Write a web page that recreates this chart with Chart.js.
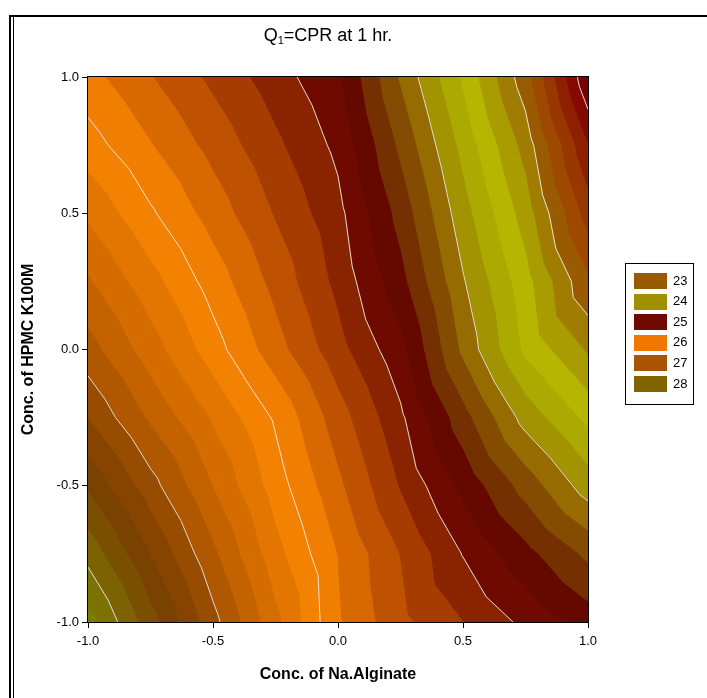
<!DOCTYPE html>
<html>
<head>
<meta charset="utf-8">
<script src="https://cdn.jsdelivr.net/npm/chart.js@4.4.1/dist/chart.umd.min.js"></script>
<style>
html,body{margin:0;padding:0;background:#fff;}
#wrap{position:relative;width:707px;height:698px;}
</style>
</head>
<body>
<div id="wrap"><canvas id="c" width="707" height="698"></canvas></div>
<script>
// ---- data ----
const xValues = [-1, -0.75, -0.5, -0.25, 0, 0.25, 0.5, 0.75, 1];
const yValues = [-1, -0.75, -0.5, -0.25, 0, 0.25, 0.5, 0.75, 1];
// CPR value at each grid node, one row per y value (left to right in x)
const rowYm100 = [28.29, 27.68, 27.07, 26.45, 25.82, 25.45, 25.20, 24.95, 24.70];
const rowYm075 = [27.93, 27.39, 26.84, 26.27, 25.79, 25.39, 24.99, 24.66, 24.35];
const rowYm050 = [27.56, 27.08, 26.59, 26.10, 25.64, 25.18, 24.74, 24.31, 23.90];
const rowYm025 = [27.19, 26.76, 26.37, 25.97, 25.49, 25.04, 24.47, 23.92, 23.54];
const rowY000  = [26.88, 26.49, 26.09, 25.68, 25.27, 24.86, 24.15, 23.55, 23.17];
const rowY025  = [26.62, 26.27, 25.91, 25.53, 25.14, 24.66, 24.02, 23.47, 22.83];
const rowY050  = [26.36, 26.03, 25.71, 25.38, 25.06, 24.52, 23.88, 23.30, 22.50];
const rowY075  = [26.09, 25.81, 25.53, 25.24, 24.95, 24.35, 23.73, 23.12, 22.20];
const rowY100  = [25.87, 25.61, 25.35, 25.09, 24.83, 24.17, 23.56, 22.88, 21.82];
const zRows = [rowYm100, rowYm075, rowYm050, rowYm025, rowY000, rowY025, rowY050, rowY075, rowY100];

const bandLevels = [21.8,22.0,22.2,22.4,22.6,22.8,23.0,23.2,23.4,23.6,23.8,24.0,24.2,24.4,24.6,24.8,25.0,
                    25.2,25.4,25.6,25.8,26.0,26.2,26.4,26.6,26.8,27.0,27.2,27.4,27.6,27.8,28.0,28.2,28.4];
const bandColors = ['#7a0000','#860800','#8e2000','#983800','#9e4800','#9a5a00','#a07c00','#a89c00',
                    '#b6b600','#acaa00','#a29400','#966c00','#844c00','#743000','#640800','#6e0a00',
                    '#8a2400','#a63c00','#be5200','#d86800','#f07e00','#f28200','#e27600','#d46c00',
                    '#c46200','#b05800','#984c00','#864400','#7a4200','#7a5000','#7c6200','#7c7200','#7c7c00'];
const lineLevels = [22, 23, 24, 25, 26, 27, 28];

const legendLabels = ['23', '24', '25', '26', '27', '28'];
const legendColors = ['#9a5a00', '#a09000', '#6e0a00', '#f07800', '#a85400', '#806400'];

const xTicks = [-1, -0.5, 0, 0.5, 1];
const yTicks = [-1, -0.5, 0, 0.5, 1];

const FONT = "'Liberation Sans', Arial, Helvetica, sans-serif";

// ---- contour drawing through the chart scales ----
function clipPoly(poly, level, keepAbove) {
  const out = [];
  const n = poly.length;
  for (let i = 0; i < n; i++) {
    const a = poly[i], b = poly[(i + 1) % n];
    const ina = keepAbove ? a.z >= level : a.z <= level;
    const inb = keepAbove ? b.z >= level : b.z <= level;
    if (ina) out.push(a);
    if (ina !== inb) {
      const t = (level - a.z) / (b.z - a.z);
      out.push({x: a.x + t * (b.x - a.x), y: a.y + t * (b.y - a.y), z: level});
    }
  }
  return out;
}

const contourPlugin = {
  id: 'contour',
  beforeDatasetsDraw(chart) {
    const ctx = chart.ctx, sx = chart.scales.x, sy = chart.scales.y, area = chart.chartArea;
    const px = p => sx.getPixelForValue(p.x), py = p => sy.getPixelForValue(p.y);
    ctx.save();
    ctx.beginPath();
    ctx.rect(area.left, area.top, area.right - area.left, area.bottom - area.top);
    ctx.clip();
    const tris = [];
    for (let j = 0; j < yValues.length - 1; j++) {
      for (let i = 0; i < xValues.length - 1; i++) {
        const p00 = {x: xValues[i], y: yValues[j], z: zRows[j][i]};
        const p10 = {x: xValues[i + 1], y: yValues[j], z: zRows[j][i + 1]};
        const p11 = {x: xValues[i + 1], y: yValues[j + 1], z: zRows[j + 1][i + 1]};
        const p01 = {x: xValues[i], y: yValues[j + 1], z: zRows[j + 1][i]};
        tris.push([p00, p10, p11]);
        tris.push([p00, p11, p01]);
      }
    }
    ctx.lineJoin = 'round';
    // paint band by band (all triangles) so seams are covered
    for (let k = 0; k < bandColors.length; k++) {
      ctx.beginPath();
      for (const tri of tris) {
        let poly = clipPoly(tri, bandLevels[k], true);
        if (poly.length < 3) continue;
        poly = clipPoly(poly, bandLevels[k + 1], false);
        if (poly.length < 3) continue;
        ctx.moveTo(px(poly[0]), py(poly[0]));
        for (let m = 1; m < poly.length; m++) ctx.lineTo(px(poly[m]), py(poly[m]));
        ctx.closePath();
      }
      ctx.fillStyle = bandColors[k];
      ctx.strokeStyle = bandColors[k];
      ctx.lineWidth = 1.2;
      ctx.stroke();
      ctx.fill('nonzero');
    }
    // white contour lines
    ctx.strokeStyle = 'rgba(235,235,235,0.9)';
    ctx.lineWidth = 1;
    for (const L of lineLevels) {
      ctx.beginPath();
      for (const tri of tris) {
        const pts = [];
        for (let e = 0; e < 3; e++) {
          const a = tri[e], b = tri[(e + 1) % 3];
          if ((a.z - L) * (b.z - L) < 0) {
            const t = (L - a.z) / (b.z - a.z);
            pts.push({x: a.x + t * (b.x - a.x), y: a.y + t * (b.y - a.y)});
          }
        }
        if (pts.length === 2) {
          ctx.moveTo(px(pts[0]), py(pts[0]));
          ctx.lineTo(px(pts[1]), py(pts[1]));
        }
      }
      ctx.stroke();
    }
    ctx.restore();
  },
  afterDraw(chart) {
    const ctx = chart.ctx, area = chart.chartArea;
    ctx.save();
    // plot frame
    ctx.strokeStyle = '#000';
    ctx.lineWidth = 1;
    ctx.strokeRect(Math.round(area.left) - 0.5, Math.round(area.top) - 0.5,
                   Math.round(area.right - area.left) + 1, Math.round(area.bottom - area.top) + 1);
    // page frame
    ctx.lineWidth = 2;
    ctx.beginPath();
    ctx.moveTo(10, 698); ctx.lineTo(10, 16); ctx.lineTo(707, 16);
    ctx.stroke();
    ctx.lineWidth = 1;
    ctx.beginPath();
    ctx.moveTo(13.5, 698); ctx.lineTo(13.5, 16);
    ctx.stroke();
    // title with subscript
    ctx.fillStyle = '#000';
    ctx.textBaseline = 'alphabetic';
    ctx.textAlign = 'left';
    const big = '18px ' + FONT, small = '11px ' + FONT;
    ctx.font = big;
    const wQ = ctx.measureText('Q').width;
    const rest = '=CPR at 1 hr.';
    const wR = ctx.measureText(rest).width;
    ctx.font = small;
    const w1 = ctx.measureText('1').width;
    const total = wQ + w1 + wR;
    let x0 = 328 - total / 2;
    const base = 41;
    ctx.font = big; ctx.fillText('Q', x0, base);
    ctx.font = small; ctx.fillText('1', x0 + wQ, base + 3);
    ctx.font = big; ctx.fillText(rest, x0 + wQ + w1, base);
    // legend
    ctx.lineWidth = 1;
    ctx.strokeStyle = '#000';
    ctx.strokeRect(625.5, 263.5, 68, 141);
    ctx.font = '13px ' + FONT;
    ctx.textBaseline = 'middle';
    for (let i = 0; i < legendLabels.length; i++) {
      const cy = 281 + i * 20.6;
      ctx.fillStyle = legendColors[i];
      ctx.fillRect(634, Math.round(cy - 8), 33, 16);
      ctx.fillStyle = '#000';
      ctx.fillText(legendLabels[i], 673, cy);
    }
    ctx.restore();
  }
};

new Chart(document.getElementById('c'), {
  type: 'scatter',
  data: {datasets: [{data: [], pointRadius: 0}]},
  options: {
    responsive: false,
    animation: false,
    devicePixelRatio: 1,
    layout: {padding: {top: 77, right: 119, left: 0, bottom: 0}},
    plugins: {legend: {display: false}, tooltip: {enabled: false}, title: {display: false}},
    scales: {
      x: {
        type: 'linear', min: -1, max: 1, position: 'bottom',
        afterBuildTicks: s => { s.ticks = xTicks.map(v => ({value: v})); },
        afterFit: s => { s.height = 76; },
        ticks: {color: '#000', font: {family: FONT, size: 13}, padding: 6, maxRotation: 0,
                callback: v => Number(v).toFixed(1)},
        grid: {drawOnChartArea: false, drawTicks: true, tickLength: 6, color: '#000'},
        border: {display: true, color: '#000', width: 1},
        title: {display: true, text: 'Conc. of Na.Alginate', color: '#000',
                font: {family: FONT, size: 16, weight: 'bold'}, padding: {top: 0, bottom: 14}}
      },
      y: {
        type: 'linear', min: -1, max: 1, position: 'left',
        afterBuildTicks: s => { s.ticks = yTicks.map(v => ({value: v})); },
        afterFit: s => { s.width = 88; },
        ticks: {color: '#000', font: {family: FONT, size: 13}, padding: 3,
                callback: v => Number(v).toFixed(1)},
        grid: {drawOnChartArea: false, drawTicks: true, tickLength: 6, color: '#000'},
        border: {display: true, color: '#000', width: 1},
        title: {display: true, text: 'Conc. of HPMC K100M', color: '#000',
                font: {family: FONT, size: 16, weight: 'bold'}, padding: {top: 19, bottom: 0}}
      }
    }
  },
  plugins: [contourPlugin]
});
</script>
</body>
</html>
